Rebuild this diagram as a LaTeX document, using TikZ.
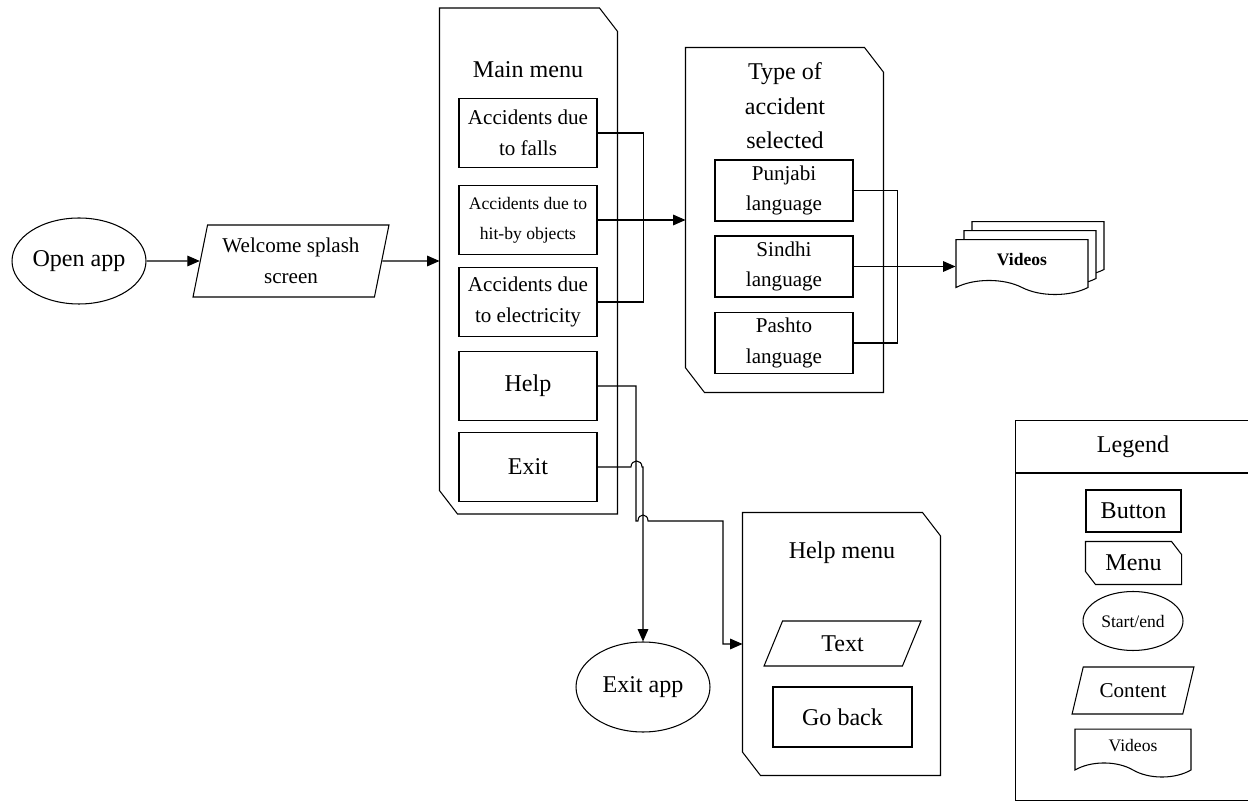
\documentclass[tikz,border=0pt]{standalone}
\usepackage{fontspec}
\setmainfont{Liberation Serif}
\usetikzlibrary{arrows.meta,shapes.geometric,shapes.symbols}

\begin{document}
\begin{tikzpicture}[x=0.02cm,y=-0.02cm,>={Triangle[length=7pt,width=6pt]},
    line width=0.6pt,
    every node/.style={align=center, inner sep=1pt},
    bigf/.style={font=\fontsize{13.7}{16}\selectfont},
    midf/.style={font=\fontsize{12}{17.5}\selectfont},
    smallf/.style={font=\fontsize{10}{17}\selectfont},
    btn/.style={draw, midf, minimum width=2.76cm, minimum height=1.38cm},
    lang/.style={draw, midf, minimum width=2.76cm, minimum height=1.22cm},
    content/.style={trapezium, draw, midf, trapezium stretches=true},
    startend/.style={ellipse, draw, bigf, inner sep=0pt},
    docu/.style={tape, draw, fill=white, tape bend top=none,
      tape bend bottom=out and in, tape bend height=8pt},
    menu/.style={inner sep=0pt, append after command={\pgfextra{
      \draw[-] (\tikzlastnode.north west) -- ([xshift=-#1]\tikzlastnode.north east)
        -- ([yshift=-1.3*#1]\tikzlastnode.north east) -- (\tikzlastnode.south east)
        -- ([xshift=#1]\tikzlastnode.south west) -- ([yshift=1.3*#1]\tikzlastnode.south west)
        -- cycle;}}},
    menu/.default=0.36cm]

  \path[use as bounding box, fill=white] (0,0) rectangle (1248,803);
  \clip (0,0) rectangle (1248,803);

  % start and splash
  \node[startend, minimum width=2.68cm, minimum height=1.72cm] (open) at (79,261) {Open app};
  \node[content, minimum width=3.94cm, minimum height=1.44cm,
    trapezium left angle=76, trapezium right angle=104] (splash) at (291,261) {Welcome splash\\screen};

  % main menu
  \node[menu, minimum width=3.54cm, minimum height=10.1cm] (main) at (528.5,261) {};
  \node[bigf] (maintitle) at (528,70) {Main menu};
  \node[btn] (falls) at (528,133) {Accidents due\\to falls};
  \node[btn, smallf] (hit) at (528,220) {Accidents due to\\hit-by objects};
  \node[btn] (elec) at (528,302) {Accidents due\\to electricity};
  \node[btn, bigf] (help) at (528,386) {Help};
  \node[btn, bigf] (exit) at (528,467) {Exit};

  % type of accident
  \node[menu=0.38cm, minimum width=3.94cm, minimum height=6.88cm] (type) at (784.5,220) {};
  \node[font=\fontsize{13.7}{19.6}\selectfont] (typetitle) at (785,106) {Type of\\accident\\selected};
  \node[lang] (punjabi) at (784,190.5) {Punjabi\\language};
  \node[lang] (sindhi) at (784,266.5) {Sindhi\\language};
  \node[lang] (pashto) at (784,343) {Pashto\\language};

  % videos
  \node[docu, minimum width=2.64cm, minimum height=1.1cm] (video3) at (1038,242) {};
  \node[docu, minimum width=2.64cm, minimum height=1.1cm] (video2) at (1030,251) {};
  \node[docu, minimum width=2.64cm, minimum height=1.1cm,
    font=\bfseries\fontsize{10}{12}\selectfont] (videos) at (1022,260) {Videos};

  % help and exit
  \node[menu, minimum width=3.94cm, minimum height=5.24cm] (helpmenu) at (841.5,644) {};
  \node[bigf] (helptitle) at (842,553) {Help menu};
  \node[content, bigf, minimum width=3.14cm, minimum height=0.9cm,
    trapezium left angle=70, trapezium right angle=110] (text) at (842.5,643.5) {Text};
  \node[btn, bigf, minimum width=2.78cm, minimum height=1.2cm] (goback) at (842.5,717) {Go back};
  \node[startend, minimum width=2.68cm, minimum height=1.8cm] (exitapp) at (643,687) {Exit app};

  % legend
  \node[draw, anchor=north west, minimum width=4.9cm, minimum height=7.6cm] (legend) at (1015,420) {};
  \draw ([yshift=-1.06cm]legend.north west) -- ([yshift=-1.06cm]legend.north east);
  \node[bigf] (legendtitle) at (1133,447) {Legend};
  \node[btn, bigf, minimum width=1.9cm, minimum height=0.84cm] (lbutton) at (1133.5,511) {Button};
  \node[menu=0.2cm, bigf, minimum width=1.9cm, minimum height=0.84cm] (lmenu) at (1133.5,563) {Menu};
  \node[startend, smallf, minimum width=2cm, minimum height=1.18cm] (lstart) at (1133,621) {Start/end};
  \node[content, minimum width=2.44cm, minimum height=0.94cm,
    trapezium left angle=66, trapezium right angle=114] (lcontent) at (1133,690.5) {Content};
  \node[docu, smallf, minimum width=2.32cm, minimum height=0.96cm] (lvideos) at (1133,746) {Videos};

  % connectors
  \draw[->] (open) -- (splash);
  \draw[->] (splash) -- (splash -| main.west);
  \draw (falls.east) -- ++(46,0) |- (elec.east);
  \draw[->] (hit.east) -- (hit.east -| type.west);
  \draw (punjabi.east) -- ++(44,0) |- (pashto.east);
  \draw[->] (sindhi.east) -- (sindhi.east -| videos.west);
  \draw[->] (help.east) -| (636,521) -- (638,521) .. controls (638,513) and (648,513) .. (648,521)
    -- (723,521) |- (helpmenu.west);
  \draw[->] (exit.east) -- (631,467) .. controls (631,459) and (642,459) .. (642,467)
    -- (643,467) -- (exitapp.north);
\end{tikzpicture}
\end{document}
